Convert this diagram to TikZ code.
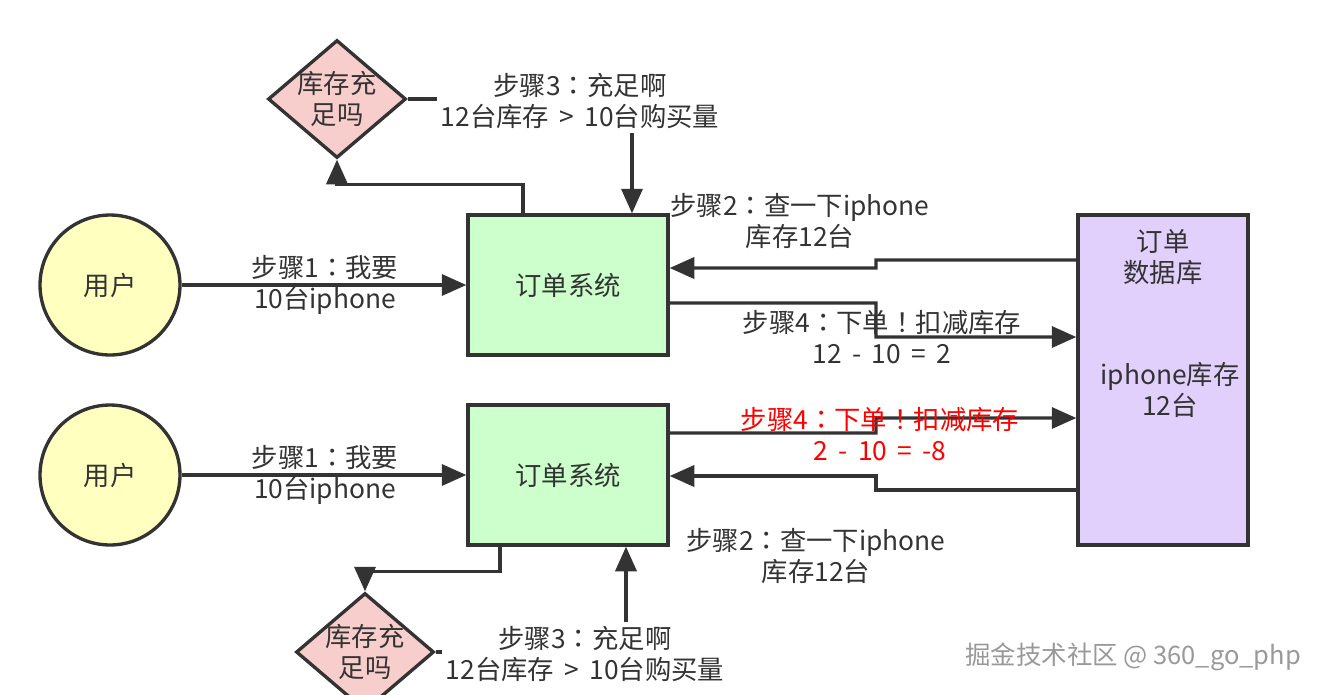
\documentclass[tikz,border=0pt]{standalone}
\usepackage{fontspec}
\setmainfont{Noto Sans CJK SC}
\newfontfamily\colonfont{Noto Sans CJK TC}
\newcommand{\stepcolon}{{\colonfont ：}}
\newcommand{\stepbang}{{\colonfont ！}}
\usepackage{tikz}
\usetikzlibrary{arrows.meta,shapes.geometric}

\definecolor{linegray}{HTML}{333333}
\definecolor{userfill}{HTML}{FFFFC0}
\definecolor{sysfill}{HTML}{CCFFCC}
\definecolor{dbfill}{HTML}{E1D0FC}
\definecolor{chkfill}{HTML}{F8CECC}

\begin{document}
\begin{tikzpicture}[x=0.02cm,y=-0.02cm,
  font=\fontsize{15}{18}\selectfont,
  user/.style={circle,draw=linegray,line width=1.9pt,fill=userfill,minimum size=2.8cm,text=linegray},
  sysbox/.style={rectangle,draw=linegray,line width=1.9pt,fill=sysfill,minimum width=4cm,minimum height=2.8cm,text=linegray},
  dbbox/.style={rectangle,draw=linegray,line width=1.9pt,fill=dbfill,minimum width=3.4cm,minimum height=6.6cm},
  check/.style={diamond,draw=linegray,line width=1.9pt,fill=chkfill,minimum width=2.76cm,minimum height=2.36cm,inner sep=-4pt,aspect=1.17,align=center,text=linegray},
  link/.style={draw=linegray,line width=1.9pt,-{Triangle[length=14pt,width=12pt]}},
  note/.style={align=center,text=linegray,inner sep=2pt},
  stamp/.style={text=black!40,font=\fontsize{14.5}{17}\selectfont}
]
\useasboundingbox (0,0) rectangle (1320,694);

% Users and order systems
\foreach \i/\y in {1/285,2/475}
{
\node[user] (user\i) at (110,\y) {用户};
\node[sysbox] (sys\i) at (568,\y) {订单系统};
\draw[link] (user\i.east) -- (sys\i.west);
\node[note] (ask\i) at (325,\y) {步骤1\stepcolon 我要\\10台iphone};
}

% Database
\node[dbbox] (db) at (1163,380) {};
\node[note] (dbname) at (1163,257) {订单\\数据库};
\node[note] (dbstock) at (1170,390) {iphone库存\\12台};

% Stock checks
\node[check] (chk1) at (337,99) {库存充\\足吗};
\node[check] (chk2) at (365,652) {库存充\\足吗};

% Upper request
\draw[link] ([xshift=-0.9cm]sys1.north) -- ++(0,-29) -| (chk1.south);
\draw[link] (chk1.east) -| ([xshift=1.28cm]sys1.north);
\node[note,fill=white] (enough1) at (580,101) {步骤3\stepcolon 充足啊\\12台库存 \,>\, 10台购买量};
\draw[link] ([yshift=2.4cm]db.west) -| (876,268) -- ([yshift=0.34cm]sys1.east);
\node[note] (query1) at (800,221) {步骤2\stepcolon 查一下iphone\\库存12台};
\draw[link] ([yshift=-0.36cm]sys1.east) -| (876,337) -- ([yshift=0.86cm]db.west);
\node[note] (order1) at (882,337) {步骤4\stepcolon 下单\stepbang 扣减库存\\12 \,-\, 10 \,=\, 2};

% Lower request
\draw[link] ([yshift=0.84cm]sys2.east) -| (876,418) -- ([yshift=-0.76cm]db.west);
\node[note,text=red] (order2) at (880,434) {步骤4\stepcolon 下单\stepbang 扣减库存\\2 \,-\, 10 \,=\, -8};
\draw[link] ([yshift=-2.2cm]db.west) -| (876,476) -- ([yshift=-0.02cm]sys2.east);
\node[note] (query2) at (816,556) {步骤2\stepcolon 查一下iphone\\库存12台};
\draw[link] ([xshift=-1.36cm]sys2.south) -- ++(0,25) -| (chk2.north);
\draw[link] (chk2.east) -| ([xshift=1.16cm]sys2.south);
\node[note,fill=white] (enough2) at (585,654) {步骤3\stepcolon 充足啊\\12台库存 \,>\, 10台购买量};

\node[stamp] (stamp) at (1133,657) {掘金技术社区 @ 360\_go\_php};

\end{tikzpicture}
\end{document}
